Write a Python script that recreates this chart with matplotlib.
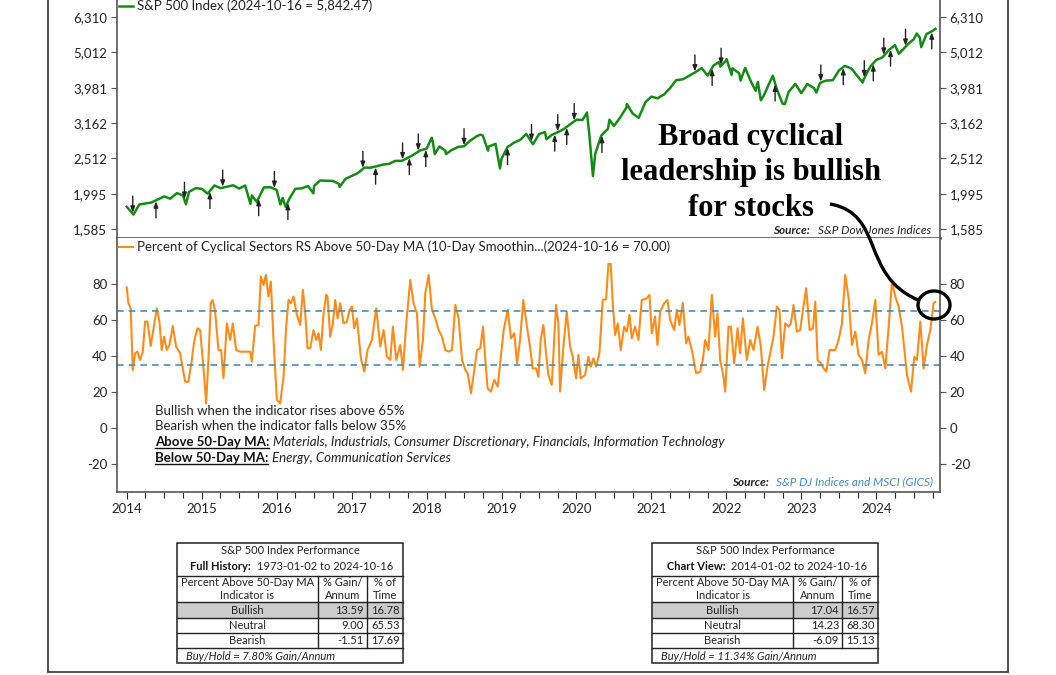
import numpy as np
import matplotlib
matplotlib.use('Agg')
import matplotlib.pyplot as plt
from matplotlib.path import Path
from matplotlib.patches import PathPatch, Ellipse, Rectangle
from matplotlib.lines import Line2D
from matplotlib.ticker import FixedLocator, NullLocator, FuncFormatter

plt.rcParams['font.family'] = ['Lato', 'DejaVu Sans']
plt.rcParams['axes.unicode_minus'] = False

# S&P 500 index level (decimal year, close)
sp_dates = [2014.00, 2014.09, 2014.167, 2014.25, 2014.33, 2014.42, 2014.5, 2014.58, 2014.67, 2014.75,
            2014.79, 2014.83, 2014.92, 2015.0, 2015.08, 2015.17, 2015.25, 2015.33, 2015.42, 2015.5,
            2015.58, 2015.65, 2015.67, 2015.74, 2015.75, 2015.83, 2015.92, 2016.0, 2016.05, 2016.08,
            2016.12, 2016.17, 2016.25, 2016.33, 2016.42, 2016.49, 2016.5, 2016.58, 2016.67, 2016.75,
            2016.83, 2016.84, 2016.92, 2017.0, 2017.08, 2017.17, 2017.25, 2017.33, 2017.42, 2017.5,
            2017.58, 2017.67, 2017.75, 2017.83, 2017.92, 2018.0, 2018.07, 2018.08, 2018.11, 2018.17,
            2018.25, 2018.26, 2018.33, 2018.42, 2018.5, 2018.58, 2018.67, 2018.72, 2018.75, 2018.82,
            2018.83, 2018.92, 2018.98, 2019.0, 2019.08, 2019.17, 2019.25, 2019.33, 2019.42, 2019.5,
            2019.58, 2019.60, 2019.67, 2019.75, 2019.83, 2019.92, 2020.0, 2020.08, 2020.14, 2020.17,
            2020.22, 2020.25, 2020.33, 2020.42, 2020.44, 2020.5, 2020.58, 2020.667, 2020.672, 2020.75,
            2020.83, 2020.92, 2021.0, 2021.08, 2021.17, 2021.25, 2021.33, 2021.42, 2021.5, 2021.58,
            2021.67, 2021.75, 2021.83, 2021.90, 2021.92, 2022.0, 2022.003, 2022.07, 2022.08, 2022.17,
            2022.19, 2022.25, 2022.33, 2022.39, 2022.42, 2022.46, 2022.5, 2022.58, 2022.62, 2022.67,
            2022.75, 2022.78, 2022.83, 2022.92, 2023.0, 2023.08, 2023.17, 2023.2, 2023.25, 2023.33,
            2023.42, 2023.5, 2023.58, 2023.67, 2023.75, 2023.82, 2023.83, 2023.92, 2024.0, 2024.08,
            2024.17, 2024.25, 2024.30, 2024.33, 2024.42, 2024.5, 2024.54, 2024.58, 2024.6, 2024.67,
            2024.75, 2024.79]
sp_values = [1832, 1741, 1859, 1872, 1884, 1924, 1960, 1931, 2003, 1972,
             1862, 2018, 2068, 2059, 1995, 2105, 2068, 2086, 2107, 2063,
             2104, 1867, 1972, 1884, 1920, 2079, 2080, 2044, 1859, 1940,
             1829, 1932, 2060, 2065, 2097, 2000, 2099, 2174, 2171, 2168,
             2126, 2085, 2199, 2239, 2279, 2364, 2363, 2384, 2412, 2423,
             2470, 2472, 2519, 2575, 2648, 2674, 2873, 2824, 2581, 2714,
             2641, 2582, 2648, 2705, 2718, 2816, 2902, 2931, 2914, 2641,
             2712, 2760, 2351, 2507, 2704, 2784, 2834, 2946, 2752, 2942,
             2980, 2845, 2926, 2977, 3038, 3141, 3231, 3226, 3386, 2954,
             2237, 2585, 2912, 3044, 3232, 3100, 3271, 3500, 3580, 3363,
             3270, 3622, 3756, 3714, 3811, 3973, 4181, 4204, 4298, 4395,
             4523, 4308, 4605, 4704, 4567, 4766, 4797, 4326, 4516, 4374,
             4171, 4530, 4132, 3901, 4132, 3667, 3785, 4130, 4305, 3955,
             3586, 3577, 3872, 4080, 3840, 4077, 3970, 3855, 4109, 4169,
             4180, 4450, 4589, 4508, 4288, 4117, 4194, 4568, 4770, 4846,
             5096, 5254, 4967, 5036, 5278, 5460, 5667, 5522, 5186, 5648,
             5762, 5842]

# Percent of cyclical sectors RS above 50-day MA (10-day smoothing)
ind_dates = [2014.000, 2014.022, 2014.053, 2014.080, 2014.111, 2014.142, 2014.178, 2014.214, 2014.245, 2014.276,
             2014.320, 2014.365, 2014.401, 2014.436, 2014.467, 2014.498, 2014.534, 2014.570, 2014.614, 2014.659,
             2014.712, 2014.779, 2014.823, 2014.868, 2014.899, 2014.943, 2014.979, 2015.032, 2015.059, 2015.090,
             2015.121, 2015.148, 2015.179, 2015.224, 2015.259, 2015.291, 2015.335, 2015.380, 2015.415, 2015.460,
             2015.513, 2015.647, 2015.669, 2015.713, 2015.758, 2015.789, 2015.825, 2015.856, 2015.891, 2015.923,
             2015.958, 2016.003, 2016.047, 2016.092, 2016.127, 2016.158, 2016.190, 2016.225, 2016.270, 2016.314,
             2016.350, 2016.381, 2016.412, 2016.448, 2016.492, 2016.528, 2016.559, 2016.590, 2016.626, 2016.661,
             2016.679, 2016.715, 2016.750, 2016.781, 2016.813, 2016.848, 2016.893, 2016.937, 2016.973, 2017.004,
             2017.035, 2017.071, 2017.124, 2017.169, 2017.213, 2017.271, 2017.329, 2017.382, 2017.427, 2017.471,
             2017.516, 2017.551, 2017.596, 2017.649, 2017.685, 2017.729, 2017.783, 2017.827, 2017.872, 2017.907,
             2017.952, 2017.983, 2018.028, 2018.072, 2018.117, 2018.161, 2018.206, 2018.250, 2018.295, 2018.339,
             2018.384, 2018.428, 2018.473, 2018.517, 2018.548, 2018.593, 2018.637, 2018.673, 2018.717, 2018.753,
             2018.784, 2018.815, 2018.860, 2018.904, 2018.949, 2018.984, 2019.029, 2019.082, 2019.127, 2019.171,
             2019.207, 2019.247, 2019.291, 2019.336, 2019.380, 2019.416, 2019.461, 2019.492, 2019.523, 2019.559,
             2019.594, 2019.625, 2019.670, 2019.728, 2019.759, 2019.781, 2019.826, 2019.870, 2019.915, 2019.950,
             2019.995, 2020.026, 2020.057, 2020.115, 2020.159, 2020.191, 2020.226, 2020.262, 2020.306, 2020.351,
             2020.395, 2020.426, 2020.458, 2020.484, 2020.515, 2020.551, 2020.591, 2020.636, 2020.671, 2020.707,
             2020.738, 2020.782, 2020.827, 2020.871, 2020.938, 2020.974, 2021.005, 2021.049, 2021.081, 2021.116,
             2021.170, 2021.214, 2021.250, 2021.303, 2021.339, 2021.374, 2021.419, 2021.463, 2021.494, 2021.539,
             2021.597, 2021.650, 2021.686, 2021.717, 2021.761, 2021.806, 2021.850, 2021.882, 2021.917, 2021.962,
             2021.984, 2022.029, 2022.060, 2022.104, 2022.149, 2022.184, 2022.220, 2022.273, 2022.318, 2022.362,
             2022.416, 2022.460, 2022.505, 2022.549, 2022.585, 2022.629, 2022.674, 2022.709, 2022.741, 2022.785,
             2022.830, 2022.861, 2022.896, 2022.941, 2022.985, 2023.021, 2023.065, 2023.110, 2023.155, 2023.186,
             2023.217, 2023.261, 2023.297, 2023.333, 2023.377, 2023.453, 2023.497, 2023.542, 2023.586, 2023.631,
             2023.675, 2023.720, 2023.764, 2023.809, 2023.853, 2023.898, 2023.942, 2023.987, 2024.031, 2024.076,
             2024.120, 2024.165, 2024.209, 2024.254, 2024.298, 2024.343, 2024.410, 2024.463, 2024.507, 2024.543,
             2024.587, 2024.632, 2024.676, 2024.721, 2024.765, 2024.788]
ind_values = [78.1, 69.3, 66.5, 32.2, 41.5, 42.4, 37.8, 42.4, 59.1, 59.1,
              45.6, 57.2, 66.5, 59.1, 43.3, 50.7, 43.3, 46.1, 56.7, 45.2,
              41.5, 25.7, 25.7, 37.8, 48.0, 55.4, 54.4, 29.4, 13.7, 37.8,
              69.3, 71.1, 64.6, 43.3, 43.3, 27.6, 58.1, 48.9, 58.1, 43.3,
              42.4, 42.4, 36.9, 56.7, 57.2, 84.1, 79.4, 85.0, 73.0, 81.3,
              48.9, 15.6, 13.7, 28.5, 56.3, 71.1, 69.3, 73.0, 62.8, 57.2,
              76.7, 63.7, 44.3, 44.3, 54.4, 48.9, 52.6, 43.3, 63.7, 73.9,
              73.0, 50.7, 58.1, 71.1, 60.9, 69.3, 58.1, 59.1, 65.6, 67.4,
              55.4, 60.9, 38.7, 31.3, 43.3, 48.9, 66.5, 45.2, 54.4, 39.6,
              37.8, 56.3, 37.8, 46.1, 32.2, 58.1, 82.2, 69.3, 63.7, 34.1,
              48.9, 74.8, 85.0, 65.6, 60.9, 54.4, 50.7, 43.3, 42.4, 43.3,
              68.3, 60.9, 37.8, 32.2, 30.4, 19.3, 32.2, 43.3, 44.3, 56.3,
              37.8, 22.0, 20.2, 26.7, 23.0, 36.9, 54.4, 65.6, 49.8, 52.6,
              35.9, 48.9, 71.1, 57.2, 45.2, 33.1, 33.1, 28.5, 48.9, 57.2,
              41.5, 29.4, 23.9, 68.3, 58.1, 20.2, 45.2, 64.6, 45.2, 39.6,
              27.6, 40.6, 27.6, 29.4, 39.6, 34.1, 38.7, 34.1, 41.5, 71.1,
              71.5, 91.1, 91.1, 69.3, 51.7, 58.1, 43.3, 56.3, 53.5, 62.8,
              49.8, 56.3, 48.9, 71.1, 72.0, 73.9, 52.6, 61.9, 46.1, 64.6,
              69.3, 71.1, 60.0, 54.4, 65.6, 57.2, 69.6, 47.0, 50.7, 43.3,
              30.4, 31.3, 37.8, 48.9, 43.3, 73.9, 50.7, 63.7, 37.8, 28.5,
              20.2, 56.3, 56.3, 35.9, 55.4, 41.5, 60.9, 37.8, 48.9, 43.3,
              56.3, 45.2, 21.1, 34.1, 41.5, 50.7, 67.4, 65.6, 38.7, 58.1,
              56.3, 58.1, 68.3, 53.5, 54.4, 65.6, 77.6, 54.4, 55.4, 70.2,
              37.8, 35.9, 33.1, 31.3, 43.3, 43.3, 48.9, 58.1, 85.0, 72.0,
              46.1, 53.5, 40.6, 37.8, 30.4, 48.9, 58.1, 71.1, 40.6, 42.4,
              33.1, 56.3, 81.3, 73.0, 67.4, 56.3, 29.4, 20.2, 39.6, 37.8,
              59.1, 33.1, 46.1, 54.4, 69.3, 70.0]

# signal arrows on the S&P 500 line
down_arrows = [2014.08, 2014.77, 2015.28, 2015.97, 2017.15, 2017.68, 2017.89, 2018.50, 2019.40,
               2019.75, 2019.97, 2021.58, 2021.93, 2023.26, 2023.84, 2024.10, 2024.39]
up_arrows = [2014.39, 2015.11, 2015.76, 2016.15, 2017.32, 2017.77, 2017.99, 2019.08, 2019.71,
             2019.87, 2020.34, 2021.81, 2022.65, 2023.56, 2023.96, 2024.19, 2024.74]

sp_ticks = [1585, 1995, 2512, 3162, 3981, 5012, 6310]
ind_ticks = [-20, 0, 20, 40, 60, 80]
years = list(range(2014, 2025))
bullish_level = 65
bearish_level = 35

row_labels = ['Bullish', 'Neutral', 'Bearish']
full_label, full_range = 'Full History:', '1973-01-02 to 2024-10-16'
full_gain = ['13.59', '9.00', '-1.51']
full_time = ['16.78', '65.53', '17.69']
full_bh = 'Buy/Hold = 7.80% Gain/Annum'
view_label, view_range = 'Chart View:', '2014-01-02 to 2024-10-16'
view_gain = ['17.04', '14.23', '-6.09']
view_time = ['16.57', '68.30', '15.13']
view_bh = 'Buy/Hold = 11.34% Gain/Annum'

W, H = 1056, 675
GREEN = '#168a16'
ORANGE = '#ff8c1a'
BLUE = '#4a8cb8'
SPINE = '#555555'
XLIM = (2013.87, 2024.85)


def fx(x):
    return x / W


def fy(y):
    return 1 - y / H


fig = plt.figure(figsize=(W / 100, H / 100), dpi=100)

# ---- top panel: S&P 500
ax1 = fig.add_axes([fx(117), fy(238), 823 / W, 248 / H])
ax1.plot(sp_dates, sp_values, color=GREEN, lw=1.8)
ax1.set_yscale('log')
ax1.set_ylim(10 ** 3.1745, 10 ** 3.8765)
ax1.yaxis.set_major_locator(FixedLocator(sp_ticks))
ax1.yaxis.set_minor_locator(NullLocator())
ax1.yaxis.set_major_formatter(FuncFormatter(lambda v, p: f'{v:,.0f}'))
ax1.yaxis.set_minor_formatter(FuncFormatter(lambda v, p: ''))
ax1.tick_params(axis='y', which='both', left=True, right=True, labelleft=True, labelright=True,
                length=4, width=0.8, color=SPINE, labelsize=9.5, labelcolor='#222222', pad=3)
ax1.tick_params(axis='x', which='both', bottom=False, labelbottom=False)
ax1.set_xlim(*XLIM)
for s in ['left', 'right']:
    ax1.spines[s].set_color(SPINE)
    ax1.spines[s].set_linewidth(1.2)
ax1.spines['top'].set_visible(False)
ax1.spines['bottom'].set_color('#444444')
ax1.spines['bottom'].set_linewidth(1.8)

log_sp = np.log10(sp_values)
for d in down_arrows:
    y = 10 ** np.interp(d, sp_dates, log_sp)
    ax1.annotate('', xy=(d, y * 1.006), xytext=(0, 12), textcoords='offset points',
                 arrowprops=dict(arrowstyle='-|>,head_length=0.35,head_width=0.13',
                                 color='#222222', lw=1.0, shrinkA=0, shrinkB=0))
for d in up_arrows:
    y = 10 ** np.interp(d, sp_dates, log_sp)
    ax1.annotate('', xy=(d, y / 1.006), xytext=(0, -12), textcoords='offset points',
                 arrowprops=dict(arrowstyle='-|>,head_length=0.35,head_width=0.13',
                                 color='#222222', lw=1.0, shrinkA=0, shrinkB=0))

fig.add_artist(Line2D([fx(119), fx(133)], [fy(6), fy(6)], color=GREEN, lw=1.8))
fig.text(fx(137), fy(6), 'S&P 500 Index (2024-10-16 = 5,842.47)', fontsize=9.5,
         color='#222222', va='center', ha='left')
fig.text(fx(773), fy(231), 'Source:', fontsize=8.5, style='italic', weight='bold',
         color='#222222', va='center', ha='left')
fig.text(fx(818), fy(231), 'S&P Dow Jones Indices', fontsize=8.5, style='italic',
         color='#222222', va='center', ha='left')

# ---- lower panel: indicator
ax2 = fig.add_axes([fx(117), fy(492), 823 / W, 254 / H])
ax2.plot(ind_dates, ind_values, color=ORANGE, lw=1.5)
ax2.axhline(bullish_level, color=BLUE, lw=1.2, ls=(0, (4, 3)))
ax2.axhline(bearish_level, color=BLUE, lw=1.2, ls=(0, (4, 3)))
ax2.set_yticks(ind_ticks)
ax2.set_xticks(years)
ax2.set_xticks([y + q / 4 for y in range(2013, 2025) for q in range(1, 4)], minor=True)
ax2.set_ylim(-35.5, 105.5)
ax2.set_xlim(*XLIM)
ax2.tick_params(axis='y', left=True, right=True, labelleft=True, labelright=True,
                length=4, width=0.8, color=SPINE, labelsize=9.5, labelcolor='#222222', pad=3)
ax2.tick_params(axis='x', which='major', length=5, width=0.8, color='#222222',
                labelsize=9.5, labelcolor='#222222', pad=3)
ax2.tick_params(axis='x', which='minor', length=4, width=0.8, color='#222222')
for s in ['left', 'right', 'bottom']:
    ax2.spines[s].set_color(SPINE)
    ax2.spines[s].set_linewidth(1.2)
ax2.spines['top'].set_visible(False)

fig.add_artist(Line2D([fx(119), fx(133)], [fy(247), fy(247)], color=ORANGE, lw=1.5))
fig.text(fx(137), fy(247), 'Percent of Cyclical Sectors RS Above 50-Day MA (10-Day Smoothin...(2024-10-16 = 70.00)',
         fontsize=9.5, color='#222222', va='center', ha='left')

fig.text(fx(155), fy(411), 'Bullish when the indicator rises above 65%', fontsize=9.5,
         color='#222222', va='center')
fig.text(fx(155), fy(426.5), 'Bearish when the indicator falls below 35%', fontsize=9.5,
         color='#222222', va='center')

renderer = fig.canvas.get_renderer()
inv = fig.transFigure.inverted()
for ypx, head, rest in [(442, 'Above 50-Day MA:',
                         'Materials, Industrials, Consumer Discretionary, Financials, Information Technology'),
                        (458, 'Below 50-Day MA:', 'Energy, Communication Services')]:
    t = fig.text(fx(155), fy(ypx), head, fontsize=9.5, weight='bold', color='#111111', va='center')
    bb = t.get_window_extent(renderer).transformed(inv)
    fig.add_artist(Line2D([bb.x0, bb.x1], [bb.y0 + 0.5 / H, bb.y0 + 0.5 / H], color='#111111', lw=1.0))
    fig.text(bb.x1 + 4 / W, fy(ypx), rest, fontsize=9.5, style='italic', color='#222222', va='center')

fig.text(fx(732), fy(482), 'Source:', fontsize=8.5, style='italic', weight='bold',
         color='#222222', va='center', ha='left')
fig.text(fx(776), fy(482), 'S&P DJ Indices and MSCI (GICS)', fontsize=8.5, style='italic',
         color=BLUE, va='center', ha='left')

# ---- callout
fig.text(fx(751), fy(173), 'Broad cyclical\nleadership is bullish\nfor stocks', fontsize=22,
         family='Liberation Serif', weight='bold', ha='center', va='center', linespacing=1.3,
         color='black')
verts = [(830, 204), (885, 214), (860, 275), (918, 300)]
path = Path([(fx(x), fy(y)) for x, y in verts], [Path.MOVETO, Path.CURVE4, Path.CURVE4, Path.CURVE4])
fig.add_artist(PathPatch(path, fc='none', ec='black', lw=2.4, transform=fig.transFigure))
fig.add_artist(Ellipse((fx(934), fy(305)), 32 / W, 28 / H, fc='none', ec='black', lw=2.4,
                       transform=fig.transFigure))


# ---- performance tables
def draw_table(cols, label, label_x, rng, rng_x, gains, times, bh):
    rows = [543, 576, 602, 618, 633, 648, 663]
    x0, x1, x2, x3 = cols
    fig.add_artist(Rectangle((fx(x0), fy(rows[3])), (x3 - x0) / W, (rows[3] - rows[2]) / H,
                             fc='#cccccc', ec='none', transform=fig.transFigure))
    fig.add_artist(Rectangle((fx(x0), fy(rows[-1])), (x3 - x0) / W, (rows[-1] - rows[0]) / H,
                             fc='none', ec='#222222', lw=1.1, transform=fig.transFigure))
    for r in rows[1:-1]:
        fig.add_artist(Line2D([fx(x0), fx(x3)], [fy(r), fy(r)], color='#222222', lw=1.0))
    for c in (x1, x2):
        fig.add_artist(Line2D([fx(c), fx(c)], [fy(rows[1]), fy(rows[5])], color='#222222', lw=1.0))
    kw = dict(fontsize=8, color='#222222', va='center')
    fig.text(fx((x0 + x3) / 2), fy(551), 'S&P 500 Index Performance', ha='center', **kw)
    fig.text(fx(label_x), fy(566), label, ha='left', weight='bold', **{**kw, 'color': '#111111'})
    fig.text(fx(rng_x), fy(566), rng, ha='left', **kw)
    fig.text(fx((x0 + x1) / 2), fy(583), 'Percent Above 50-Day MA', ha='center', **kw)
    fig.text(fx((x0 + x1) / 2), fy(595.5), 'Indicator is', ha='center', **kw)
    fig.text(fx((x1 + x2) / 2), fy(583), '% Gain/', ha='center', **kw)
    fig.text(fx((x1 + x2) / 2), fy(595.5), 'Annum', ha='center', **kw)
    fig.text(fx((x2 + x3) / 2), fy(583), '% of', ha='center', **kw)
    fig.text(fx((x2 + x3) / 2), fy(595.5), 'Time', ha='center', **kw)
    for i, (name, g, t) in enumerate(zip(row_labels, gains, times)):
        yc = (rows[2 + i] + rows[3 + i]) / 2
        fig.text(fx((x0 + x1) / 2), fy(yc), name, ha='center', **kw)
        fig.text(fx(x2 - 3), fy(yc), g, ha='right', **kw)
        fig.text(fx(x3 - 3), fy(yc), t, ha='right', **kw)
    fig.text(fx(x0 + 9), fy(656), bh, ha='left', style='italic', **kw)


draw_table([177, 318, 367, 403], full_label, 190, full_range, 257, full_gain, full_time, full_bh)
draw_table([652, 793, 842, 878], view_label, 667, view_range, 731, view_gain, view_time, view_bh)

# ---- outer frame
for xs, ys in [([48, 48], [0, 672]), ([1008, 1008], [0, 672]), ([48, 1008], [672, 672])]:
    fig.add_artist(Line2D([fx(x) for x in xs], [fy(y) for y in ys], color='#333333', lw=1.2))

fig.savefig('out.png', dpi=100)
